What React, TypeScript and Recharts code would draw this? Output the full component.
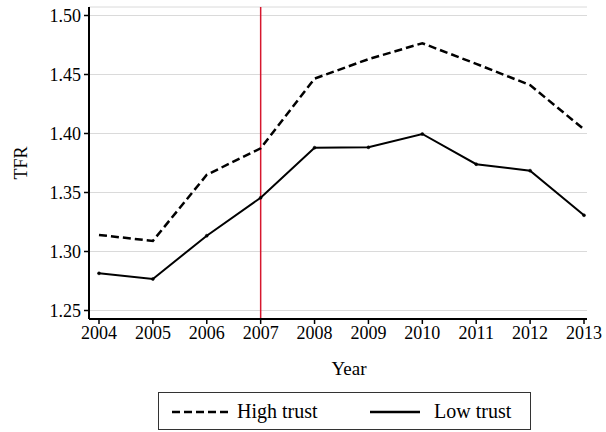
import React from "react";
import {
  LineChart,
  Line,
  XAxis,
  YAxis,
  CartesianGrid,
  ReferenceLine,
  Label,
} from "recharts";

const years = [2004, 2005, 2006, 2007, 2008, 2009, 2010, 2011, 2012, 2013];
const highTrust = [1.314, 1.309, 1.365, 1.3875, 1.4465, 1.463, 1.4765, 1.459, 1.441, 1.4035];
const lowTrust = [1.2815, 1.2767, 1.3134, 1.3456, 1.388, 1.3883, 1.3996, 1.374, 1.3685, 1.3307];
const yTicks = [1.25, 1.3, 1.35, 1.4, 1.45, 1.5];
const policyYear = 2007;

const data = years.map((year, i) => ({
  year,
  high: highTrust[i],
  low: lowTrust[i],
}));

const FONT = "'Liberation Serif', 'DejaVu Serif', serif";

function YTitle(props: any) {
  const vb = props.viewBox;
  const x = vb.x + 21;
  const y = vb.y + vb.height / 2;
  return (
    <text
      x={x}
      y={y}
      transform={`rotate(-90, ${x}, ${y})`}
      textAnchor="middle"
      dominantBaseline="central"
      fontFamily={FONT}
      fontSize={18}
      fill="#000"
    >
      TFR
    </text>
  );
}

function XTitle(props: any) {
  const vb = props.viewBox;
  return (
    <text
      x={vb.x + vb.width / 2 + 11}
      y={vb.y + 49}
      textAnchor="middle"
      dominantBaseline="central"
      fontFamily={FONT}
      fontSize={19}
      fill="#000"
    >
      Year
    </text>
  );
}

export default function App() {
  return (
    <div
      style={{
        position: "absolute",
        left: 0,
        top: 0,
        width: 606,
        height: 432,
        background: "#fff",
      }}
    >
      <LineChart
        width={606}
        height={432}
        data={data}
        margin={{ top: 7, right: 19, left: 0, bottom: 53 }}
      >
        <CartesianGrid horizontal vertical={false} stroke="#dadada" strokeWidth={1} />
        <XAxis
          dataKey="year"
          type="number"
          domain={[2003.8145, 2013.0557]}
          ticks={years}
          interval={0}
          height={60}
          axisLine={{ stroke: "#000", strokeWidth: 2 }}
          tickLine={{ stroke: "#000", strokeWidth: 1.5 }}
          tickSize={5}
          tickMargin={2}
          tick={{ fontSize: 18, fill: "#000", fontFamily: FONT }}
        >
          <Label content={<XTitle />} />
        </XAxis>
        <YAxis
          type="number"
          domain={[1.2428, 1.5072]}
          ticks={yTicks}
          interval={0}
          width={89}
          allowDataOverflow
          tickFormatter={(v: number) => v.toFixed(2)}
          axisLine={{ stroke: "#000", strokeWidth: 2 }}
          tickLine={{ stroke: "#000", strokeWidth: 1.5 }}
          tickSize={5}
          tickMargin={3}
          tick={{ fontSize: 18, fill: "#000", fontFamily: FONT }}
        >
          <Label content={<YTitle />} />
        </YAxis>
        <ReferenceLine x={policyYear} stroke="#d6172e" strokeWidth={1.5} />
        <Line
          type="linear"
          dataKey="high"
          stroke="#000"
          strokeWidth={2.5}
          strokeDasharray="8 4"
          dot={false}
          isAnimationActive={false}
        />
        <Line
          type="linear"
          dataKey="low"
          stroke="#000"
          strokeWidth={2}
          dot={{ r: 1.5, fill: "#000", stroke: "#000", strokeWidth: 0.5 }}
          isAnimationActive={false}
        />
      </LineChart>
      <div
        style={{
          position: "absolute",
          left: 158,
          top: 392,
          width: 371,
          height: 36,
          border: "1px solid #333",
          fontFamily: FONT,
          fontSize: 20,
          color: "#000",
        }}
      >
        <svg
          width={60}
          height={10}
          style={{ position: "absolute", left: 13, top: 14 }}
        >
          <line x1={0} y1={5} x2={56} y2={5} stroke="#000" strokeWidth={2.5} strokeDasharray="8 4" />
        </svg>
        <span style={{ position: "absolute", left: 78, top: 6, lineHeight: "24px" }}>
          High trust
        </span>
        <svg
          width={60}
          height={10}
          style={{ position: "absolute", left: 211, top: 14 }}
        >
          <line x1={0} y1={5} x2={50} y2={5} stroke="#000" strokeWidth={2.5} />
        </svg>
        <span style={{ position: "absolute", left: 275, top: 6, lineHeight: "24px" }}>
          Low trust
        </span>
      </div>
    </div>
  );
}
